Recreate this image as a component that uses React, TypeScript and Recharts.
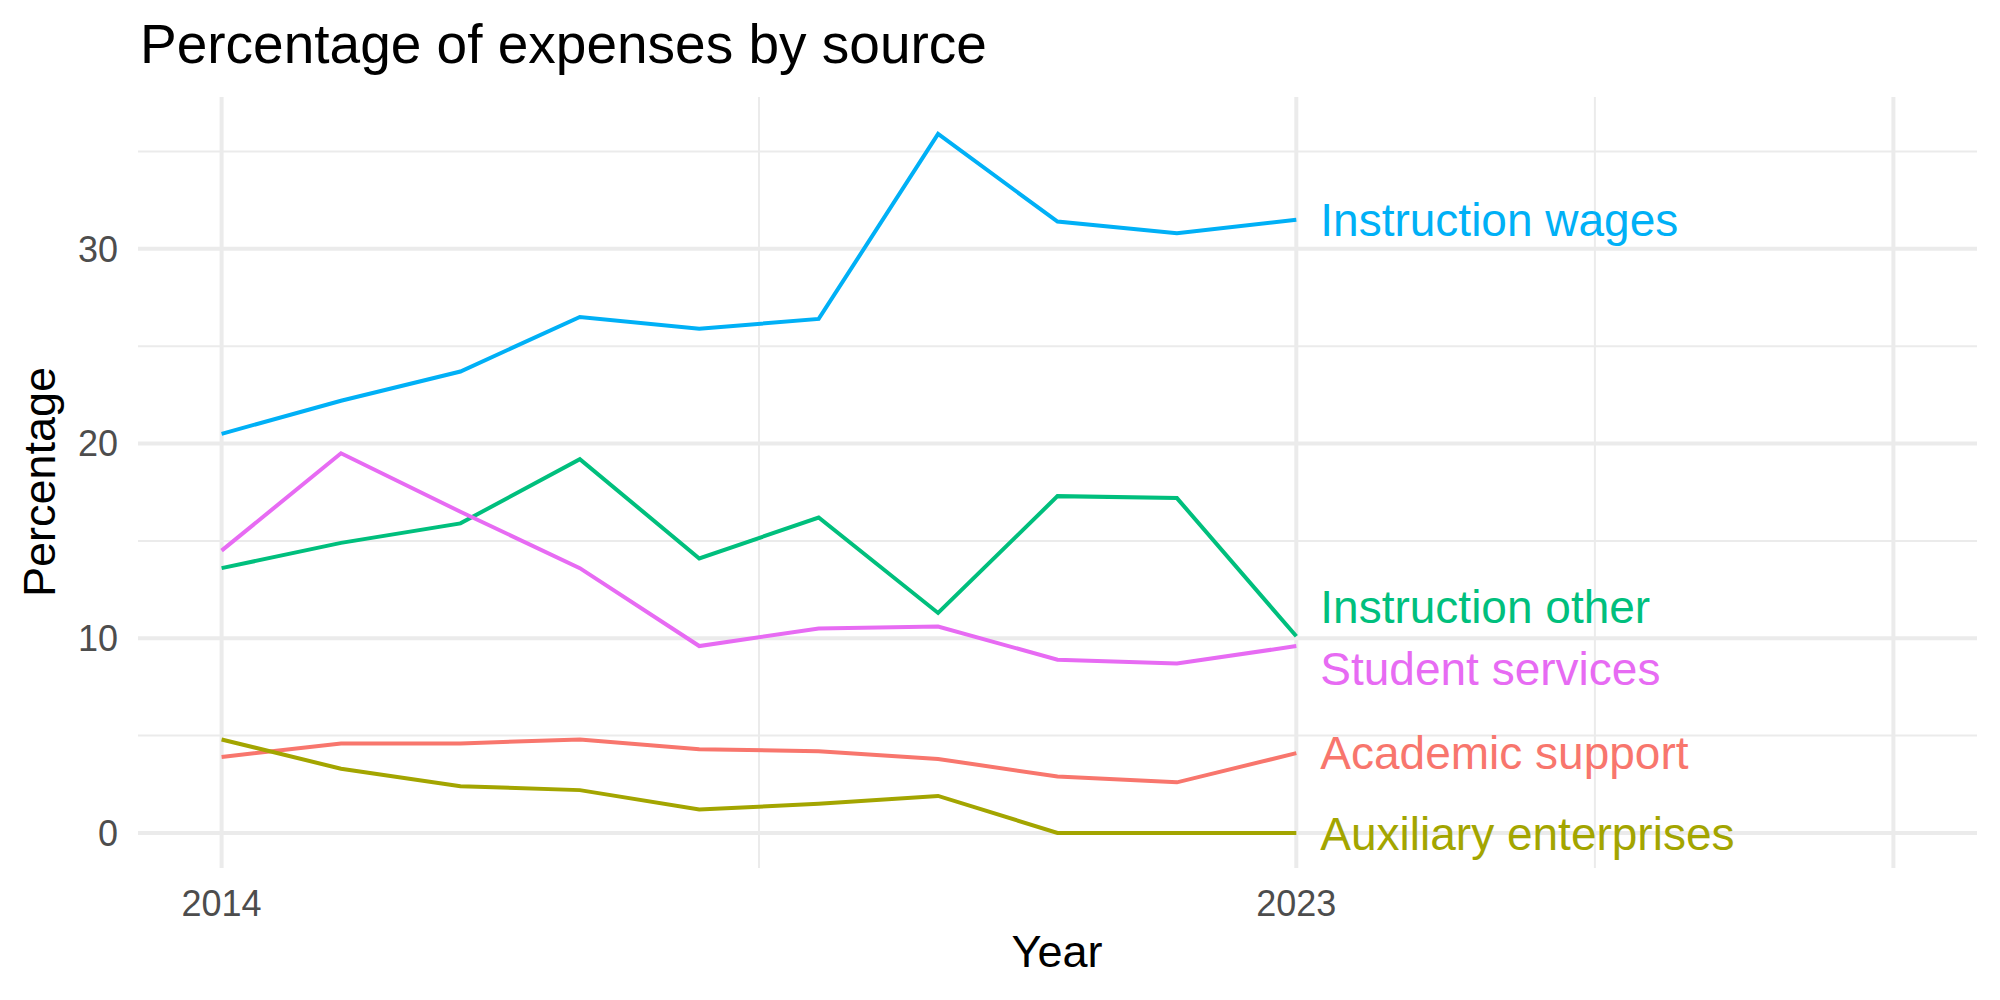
import { CartesianGrid, LabelList, Line, LineChart, XAxis, YAxis } from "recharts";

// values (percent of expenses)
const years = [2014, 2015, 2016, 2017, 2018, 2019, 2020, 2021, 2022, 2023];
const academicSupport = [3.9, 4.6, 4.6, 4.8, 4.3, 4.2, 3.8, 2.9, 2.6, 4.1];
const auxiliaryEnterprises = [4.8, 3.3, 2.4, 2.2, 1.2, 1.5, 1.9, 0, 0, 0];
const instructionOther = [13.6, 14.9, 15.9, 19.2, 14.1, 16.2, 11.3, 17.3, 17.2, 10.1];
const instructionWages = [20.5, 22.2, 23.7, 26.5, 25.9, 26.4, 35.9, 31.4, 30.8, 31.5];
const studentServices = [14.5, 19.5, 16.5, 13.6, 9.6, 10.5, 10.6, 8.9, 8.7, 9.6];

const xTicks = [2014, 2023];
const yTicks = [0, 10, 20, 30];
const xMajorGrid = [2014, 2023, 2028];
const xMinorGrid = [2018.5, 2025.5];
const yMajorGrid = [0, 10, 20, 30];
const yMinorGrid = [5, 15, 25, 35];

const FONT = '"Liberation Sans", Arial, Helvetica, sans-serif';

type Series = { key: string; name: string; color: string; values: number[]; labelDy: number };

const series: Series[] = [
  { key: "academic", name: "Academic support", color: "#F8766D", values: academicSupport, labelDy: 0 },
  { key: "auxiliary", name: "Auxiliary enterprises", color: "#A3A500", values: auxiliaryEnterprises, labelDy: 1 },
  { key: "instOther", name: "Instruction other", color: "#00BF7D", values: instructionOther, labelDy: -29 },
  { key: "instWages", name: "Instruction wages", color: "#00B0F6", values: instructionWages, labelDy: 0 },
  { key: "student", name: "Student services", color: "#E76BF3", values: studentServices, labelDy: 23 },
];

const data = years.map((year, i) => {
  const row: Record<string, number> = { year };
  series.forEach((s) => {
    row[s.key] = s.values[i];
  });
  return row;
});

// text label at the last point of each line
const endLabel = (s: Series) => (props: any) => {
  if (props.index !== years.length - 1) return null;
  return (
    <text
      x={Number(props.x) + 24}
      y={Number(props.y) + s.labelDy}
      fill={s.color}
      fontSize={46}
      fontFamily={FONT}
      dominantBaseline="central"
    >
      {s.name}
    </text>
  );
};

export default function App() {
  return (
    <div style={{ position: "relative", width: 2000, height: 1000, background: "#fff" }}>
      <style>{"body{margin:0}"}</style>
      <LineChart width={2000} height={1000} data={data} margin={{ top: 97, right: 23, bottom: 0, left: 0 }}>
        <CartesianGrid
          stroke="#EBEBEB"
          strokeWidth={2}
          horizontalValues={yMinorGrid}
          verticalValues={xMinorGrid}
        />
        <CartesianGrid
          stroke="#EBEBEB"
          strokeWidth={4}
          horizontalValues={yMajorGrid}
          verticalValues={xMajorGrid}
        />
        <XAxis
          dataKey="year"
          type="number"
          domain={[2013.3, 2028.7]}
          ticks={xTicks}
          height={132}
          axisLine={false}
          tickLine={false}
          tickSize={0}
          tickMargin={22}
          tick={{ fontSize: 36, fill: "#4D4D4D", fontFamily: FONT }}
        />
        <YAxis
          type="number"
          domain={[-1.8, 37.8]}
          ticks={yTicks}
          width={138}
          axisLine={false}
          tickLine={false}
          tickSize={0}
          tickMargin={20}
          tick={{ fontSize: 36, fill: "#4D4D4D", fontFamily: FONT }}
        />
        {series.map((s) => (
          <Line
            key={s.key}
            dataKey={s.key}
            type="linear"
            stroke={s.color}
            strokeWidth={4}
            dot={false}
            activeDot={false}
            isAnimationActive={false}
          >
            <LabelList dataKey={s.key} content={endLabel(s)} />
          </Line>
        ))}
      </LineChart>
      <svg
        width={2000}
        height={1000}
        style={{ position: "absolute", left: 0, top: 0, pointerEvents: "none" }}
        fontFamily={FONT}
      >
        <text x={140} y={63} fontSize={55} fill="#000">
          Percentage of expenses by source
        </text>
        <text x={1057} y={967} fontSize={45} fill="#000" textAnchor="middle">
          Year
        </text>
        <text x={55} y={482} fontSize={45} fill="#000" textAnchor="middle" transform="rotate(-90 55 482)">
          Percentage
        </text>
      </svg>
    </div>
  );
}
